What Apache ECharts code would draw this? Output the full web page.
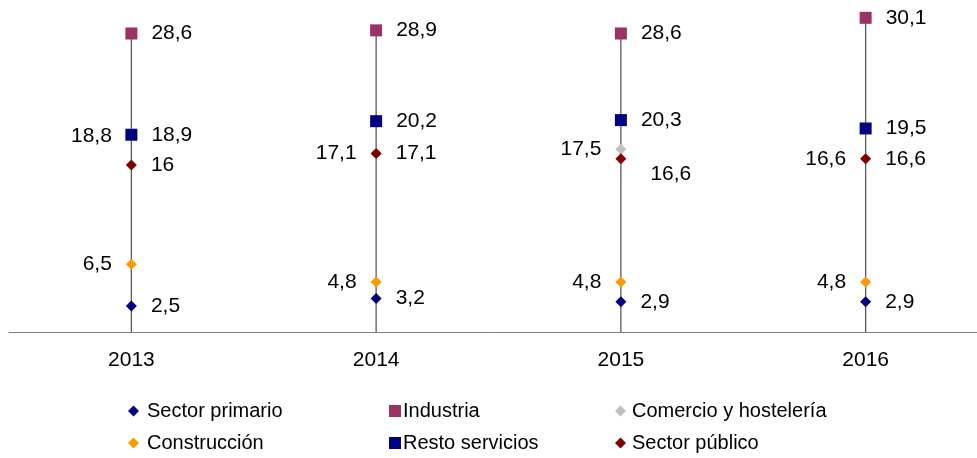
<!DOCTYPE html>
<html>
<head>
<meta charset="utf-8">
<script src="https://cdn.jsdelivr.net/npm/echarts@6/dist/echarts.min.js"></script>
<style>
  html, body { margin: 0; padding: 0; background: #fff; }
  #chart { width: 977px; height: 458px; }
</style>
</head>
<body>
<div id="chart"></div>
<script>
// años
const years = ['2013', '2014', '2015', '2016'];

// valores por sector
const sectorPrimario = [2.5, 3.2, 2.9, 2.9];
const industria = [28.6, 28.9, 28.6, 30.1];
const comercio = [18.8, 17.1, 17.5, 16.6];
const construccion = [6.5, 4.8, 4.8, 4.8];
const restoServicios = [18.9, 20.2, 20.3, 19.5];
const sectorPublico = [16, 17.1, 16.6, 16.6];

const chart = echarts.init(document.getElementById('chart'));

const fontFamily = 'Liberation Sans, Arial, sans-serif';
const fmt = p => String(p.value).replace('.', ',');
const labelFont = { fontFamily: fontFamily, fontSize: 21, color: '#000' };
const legendText = { fontFamily: fontFamily, fontSize: 20, color: '#000' };

function scatter(name, data, symbol, size, color, pos) {
  return {
    name: name,
    type: 'line',
    data: data,
    symbol: symbol,
    symbolSize: size,
    showSymbol: true,
    lineStyle: { width: 0, opacity: 0 },
    itemStyle: { color: color },
    label: Object.assign({ show: true, position: pos, distance: 14, formatter: fmt }, labelFont),
    emphasis: { disabled: true },
    z: 3
  };
}

// línea vertical desde el eje hasta el valor máximo de cada año
const allSeries = [sectorPrimario, industria, comercio, construccion, restoServicios, sectorPublico];
const stems = years.map((y, i) => [i, Math.max.apply(null, allSeries.map(s => s[i]))]);

// la etiqueta de sector público en 2015 está desplazada hacia abajo
const publicoData = sectorPublico.map((v, i) =>
  i === 2 ? { value: v, label: { offset: [10, 15] } } : v);

function legendCol(left, iconSize, pad, items) {
  return {
    left: left, top: 401, orient: 'vertical', padding: 0, itemGap: 12,
    itemWidth: iconSize, itemHeight: iconSize,
    textStyle: Object.assign({ padding: [0, 0, 0, pad] }, legendText),
    data: items
  };
}

const option = {
  animation: false,
  grid: { left: 9, right: -11, top: -2, bottom: 126, outerBoundsMode: 'none' },
  xAxis: {
    type: 'category',
    data: years,
    axisLine: { lineStyle: { color: '#7f7f7f', width: 1 } },
    axisTick: { show: false },
    axisLabel: { fontFamily: fontFamily, fontSize: 21, color: '#000', margin: 18 }
  },
  yAxis: {
    type: 'value',
    min: 0,
    max: 32,
    show: false,
    splitLine: { show: false }
  },
  legend: [
    legendCol(128, 11, 3, [
      { name: 'Sector primario', icon: 'diamond' },
      { name: 'Construcción', icon: 'diamond' }
    ]),
    legendCol(389, 12, -3, [
      { name: 'Industria', icon: 'rect' },
      { name: 'Resto servicios', icon: 'rect' }
    ]),
    legendCol(615, 11, 1, [
      { name: 'Comercio y hostelería', icon: 'diamond' },
      { name: 'Sector público', icon: 'diamond' }
    ])
  ],
  series: [
    {
      type: 'custom',
      data: stems,
      silent: true,
      z: 1,
      renderItem: function (params, api) {
        const top = api.coord([api.value(0), api.value(1)]);
        const bottom = api.coord([api.value(0), 0]);
        return {
          type: 'line',
          shape: { x1: top[0], y1: top[1], x2: bottom[0], y2: bottom[1] },
          style: { stroke: '#595959', lineWidth: 1.3 }
        };
      }
    },
    scatter('Sector primario', sectorPrimario, 'diamond', 11, '#000080', 'right'),
    scatter('Industria', industria, 'rect', 12, '#993366', 'right'),
    scatter('Comercio y hostelería', comercio, 'diamond', 11, '#c0c0c0', 'left'),
    scatter('Construcción', construccion, 'diamond', 11, '#ff9900', 'left'),
    scatter('Resto servicios', restoServicios, 'rect', 12, '#000080', 'right'),
    scatter('Sector público', publicoData, 'diamond', 11, '#800000', 'right')
  ]
};

chart.setOption(option);
</script>
</body>
</html>
